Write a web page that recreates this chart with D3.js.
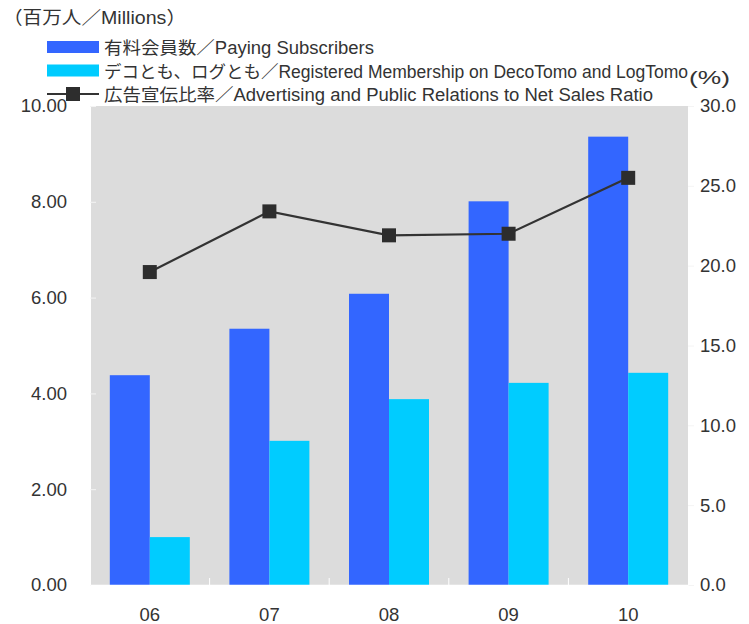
<!DOCTYPE html>
<html>
<head>
<meta charset="utf-8">
<script src="https://cdn.jsdelivr.net/npm/d3@7"></script>
<style>
  body { margin: 0; background: #fff; }
  svg text { font-family: "Liberation Sans", Arial, "Noto Sans CJK JP", sans-serif; fill: #333; }
</style>
</head>
<body>
<div id="chart"></div>
<script>
(function () {
    'use strict';

    // data
    var years = ['06', '07', '08', '09', '10'];
    var paying = [4.38, 5.35, 6.08, 8.01, 9.36];
    var registered = [1.00, 3.01, 3.88, 4.22, 4.43];
    var adRatio = [19.6, 23.4, 21.9, 22.0, 25.5];
    var leftTicks = [0, 2, 4, 6, 8, 10];
    var rightTicks = [0, 5, 10, 15, 20, 25, 30];
    var legendLabels = [
        '有料会員数／Paying Subscribers',
        'デコとも、ログとも／Registered Membership on DecoTomo and LogTomo',
        '広告宣伝比率／Advertising and Public Relations to Net Sales Ratio'
    ];
    var legendWidths = [270, 584, 549];

    var w = 749, h = 624;
    var m = { top: 106, right: 61, bottom: 39, left: 90 };
    var iw = w - m.left - m.right, ih = h - m.top - m.bottom;

    var svg = d3.select('#chart').append('svg')
                .attr('width', w).attr('height', h);

    var g = svg.append('g').attr('transform', 'translate(' + m.left + ',' + m.top + ')');

    g.append('rect').attr('width', iw).attr('height', ih).attr('fill', '#dcdcdc');

    var x = d3.scaleBand().domain(years).range([0, iw]);
    var bw = 40;
    var yL = d3.scaleLinear().domain([0, 10]).range([ih, 0]);
    var yR = d3.scaleLinear().domain([0, 30]).range([ih, 0]);

    // bars
    g.selectAll('rect.pay').data(paying).enter().append('rect')
        .attr('class', 'pay')
        .attr('x', function (d, i) { return x(years[i]) + x.bandwidth() / 2 - bw; })
        .attr('y', function (d) { return yL(d); })
        .attr('width', bw)
        .attr('height', function (d) { return ih - yL(d); })
        .attr('fill', '#3366ff');

    g.selectAll('rect.reg').data(registered).enter().append('rect')
        .attr('class', 'reg')
        .attr('x', function (d, i) { return x(years[i]) + x.bandwidth() / 2; })
        .attr('y', function (d) { return yL(d); })
        .attr('width', bw)
        .attr('height', function (d) { return ih - yL(d); })
        .attr('fill', '#00ccff');

    // axes
    var left = g.append('g')
        .call(d3.axisLeft(yL).tickValues(leftTicks).tickSize(-6).tickPadding(23)
              .tickFormat(d3.format('.2f')));
    var right = g.append('g').attr('transform', 'translate(' + iw + ',0)')
        .call(d3.axisRight(yR).tickValues(rightTicks).tickSize(6).tickPadding(6)
              .tickFormat(d3.format('.1f')));
    var bottom = g.append('g').attr('transform', 'translate(0,' + ih + ')')
        .call(d3.axisBottom(x).tickSize(0).tickPadding(23));

    [left, right].forEach(function (a) {
        a.select('.domain').attr('stroke', '#fff');
        a.selectAll('.tick line').attr('stroke', '#f4f4f4');
    });
    bottom.select('.domain').attr('stroke', '#fff').attr('stroke-width', 1.5);
    bottom.selectAll('.sep').data(years.slice(1)).enter().append('line')
        .attr('x1', function (d) { return x(d); }).attr('x2', function (d) { return x(d); })
        .attr('y1', 0).attr('y2', -7).attr('stroke', '#fff');

    svg.selectAll('.tick text').attr('font-size', 18.5).attr('fill', '#333')
        .attr('font-family', '"Liberation Sans", Arial, sans-serif');

    // line
    var line = d3.line()
        .x(function (d, i) { return x(years[i]) + x.bandwidth() / 2; })
        .y(function (d) { return yR(d); });
    g.append('path').datum(adRatio).attr('d', line)
        .attr('fill', 'none').attr('stroke', '#333').attr('stroke-width', 2.2);
    var ms = 14;
    g.selectAll('rect.mk').data(adRatio).enter().append('rect')
        .attr('class', 'mk')
        .attr('x', function (d, i) { return x(years[i]) + x.bandwidth() / 2 - ms / 2; })
        .attr('y', function (d) { return yR(d) - ms / 2; })
        .attr('width', ms).attr('height', ms)
        .attr('fill', '#2d2d2d');

    // titles
    svg.append('text').attr('x', 3).attr('y', 24).attr('font-size', 18)
        .attr('textLength', 183).attr('lengthAdjust', 'spacingAndGlyphs')
        .text('（百万人／Millions）');
    svg.append('text').attr('x', 689).attr('y', 84).attr('font-size', 19)
        .attr('textLength', 41).attr('lengthAdjust', 'spacingAndGlyphs')
        .text('(%)');

    // legend
    var leg = svg.append('g').attr('transform', 'translate(47,47)');
    var items = leg.selectAll('g').data(legendLabels).enter().append('g')
        .attr('transform', function (d, i) { return 'translate(0,' + (i * 23.5) + ')'; });
    items.each(function (d, i) {
        var it = d3.select(this);
        if (i < 2) {
            it.append('rect').attr('x', 0).attr('y', -6).attr('width', 52).attr('height', 12)
                .attr('fill', i === 0 ? '#3366ff' : '#00ccff');
        } else {
            it.append('line').attr('x1', 0).attr('x2', 52).attr('y1', 0).attr('y2', 0)
                .attr('stroke', '#333').attr('stroke-width', 2.2);
            it.append('rect').attr('x', 19).attr('y', -7).attr('width', 14).attr('height', 14)
                .attr('fill', '#2d2d2d');
        }
        it.append('text').attr('x', 57).attr('y', 7).attr('font-size', 17.5)
            .attr('textLength', legendWidths[i]).attr('lengthAdjust', 'spacingAndGlyphs')
            .text(d);
    });
})();
</script>
</body>
</html>
